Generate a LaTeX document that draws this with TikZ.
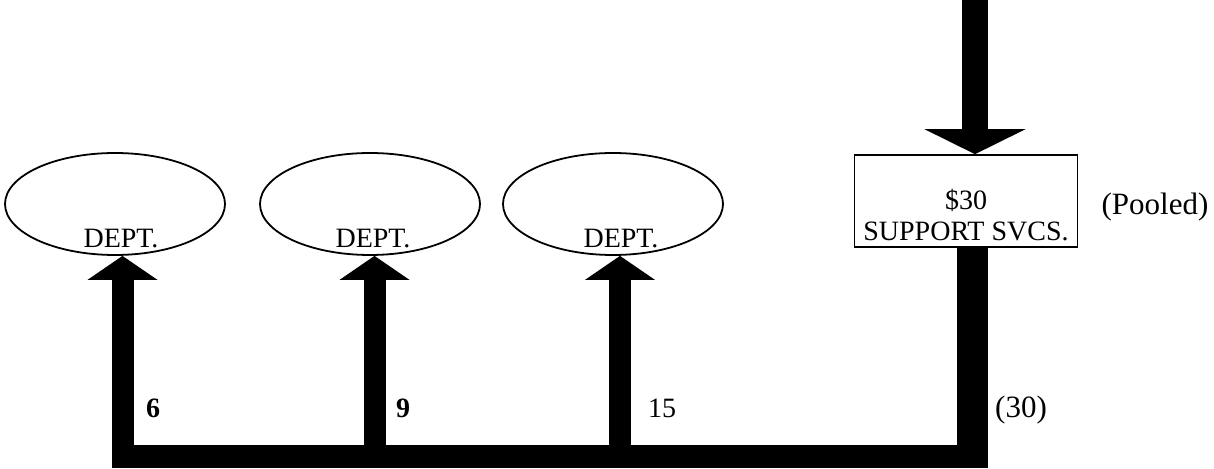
\documentclass[tikz,border=0pt]{standalone}
\usepackage{fontspec}
\setmainfont{Liberation Serif}
\usetikzlibrary{arrows.meta, positioning, shapes.geometric, calc}

\begin{document}
\begin{tikzpicture}[x=0.5pt, y=-0.5pt, font=\fontsize{14}{15.5}\selectfont,
        dept/.style={draw, ellipse, line width=0.9pt, inner sep=0pt,
                     minimum width=110pt, minimum height=51pt},
        pool/.style={draw, line width=0.8pt, inner sep=0pt,
                     minimum width=111.5pt, minimum height=46pt},
        flow/.style={line width=11pt,
                     -{Triangle[length=12pt, width=35pt, line width=0pt]}},
        amt/.style={font=\fontsize{14}{16}\selectfont\bfseries},
        note/.style={font=\fontsize{15.5}{17}\selectfont}]

    \useasboundingbox (0,0) rectangle (1214,469);

    % Departments receiving the allocation
    \node[dept] (dept1) at (115,204) {};
    \node[dept] (dept2) at (370,204) {};
    \node[dept] (dept3) at (613,204) {};
    \node[anchor=base] (dlbl1) at (121,248) {DEPT.};
    \node[anchor=base] (dlbl2) at (373,248) {DEPT.};
    \node[anchor=base] (dlbl3) at (621,248) {DEPT.};

    % Pooled support services cost
    \node[pool] (svcs) at (966,201) {};
    \node[align=center] (svcstxt) at (966,215) {\$30\\SUPPORT SVCS.};
    \node[note] (pooled) at (1155,207) {(Pooled)};

    % Cost coming into the pool
    \coordinate (src) at (975,0);
    \draw[line width=13pt, -{Triangle[length=12.5pt, width=50.5pt, line width=0pt]}]
        (src) -- (src |- svcs.north);

    % Distribution bar
    \coordinate (barL) at (112,456.5);
    \coordinate (barR) at (988,456.5);
    \coordinate (drop) at (972.5,468);
    \draw[line width=11.5pt] (barL) -- (barR);
    \draw[line width=15.5pt] (drop |- svcs.south) -- (drop);

    % Shares going up to each department
    \coordinate (b1) at (122.5,456.5);
    \coordinate (b2) at (374.5,456.5);
    \coordinate (b3) at (620,456.5);
    \draw[flow] (b1) -- (b1 |- dept1.south);
    \draw[flow] (b2) -- (b2 |- dept2.south);
    \draw[flow] (b3) -- (b3 |- dept3.south);

    % Amounts
    \node[amt] (amt1) at (153,408) {6};
    \node[amt] (amt2) at (403,408) {9};
    \node (amt3) at (662,408) {15};
    \node[note] (amt4) at (1021,410) {(30)};
\end{tikzpicture}
\end{document}
